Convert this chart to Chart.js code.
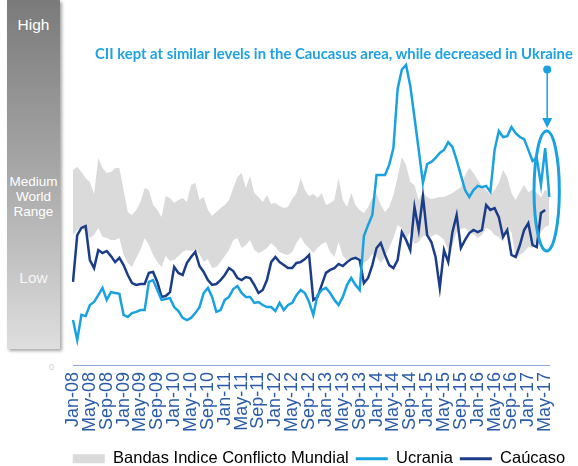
<!DOCTYPE html>
<html>
<head>
<meta charset="utf-8">
<script src="https://cdn.jsdelivr.net/npm/chart.js@4.4.1/dist/chart.umd.min.js"></script>
<style>
  body { margin: 0; background: #fff; }
  #wrap { position: relative; width: 578px; height: 466px; font-family: "Liberation Sans", Arial, sans-serif; }
  #panel {
    position: absolute; left: 7px; top: 0; width: 53px; height: 349px;
    background: linear-gradient(#7a7a7a, #a8a8a8 50%, #dedede);
    box-shadow: 2px 2px 3px rgba(0,0,0,0.35);
    color: #fff; text-align: center;
  }
  #panel .high { position: absolute; top: 16px; width: 100%; font-size: 15.5px; }
  #panel .mid { position: absolute; top: 174px; left: -3px; right: -3px; font-size: 13.5px; line-height: 15px; }
  #panel .low { position: absolute; top: 269px; width: 100%; font-size: 15.5px; color: rgba(255,255,255,0.85); }
  #zero { position: absolute; left: 49px; top: 362px; font-size: 9px; color: #d0d0d0; }
  #note {
    position: absolute; left: 95px; top: 44px; white-space: nowrap;
    font-family: Lato, "Open Sans", sans-serif; font-weight: 700; font-size: 14px; color: #1ea2e4;
  }
  canvas { position: absolute; left: 0; top: 0; }
</style>
</head>
<body>
<div id="wrap">
  <div id="panel">
    <div class="high">High</div>
    <div class="mid">Medium<br>World<br>Range</div>
    <div class="low">Low</div>
  </div>
  <div id="zero">0</div>
  <canvas id="chart" width="578" height="466"></canvas>
  <div id="note">CII kept at similar levels in the Caucasus area, while decreased in Ukraine</div>
</div>
<script>
// months Jan-08 .. Jun-17
const monthNames = ['Jan', 'Feb', 'Mar', 'Apr', 'May', 'Jun', 'Jul', 'Aug', 'Sep', 'Oct', 'Nov', 'Dec'];
const years = ['08', '09', '10', '11', '12', '13', '14', '15', '16', '17'];
const labels = [];
years.forEach(y => monthNames.forEach(m => labels.push(m + '-' + y)));
labels.length = 114;

const seriesNames = ['Bandas Indice Conflicto Mundial', 'Ucrania', 'Caúcaso'];

const bandHigh = [65.0,66.0,64.3,62.3,61.0,57.0,69.0,65.7,64.0,64.3,
  65.7,65.7,58.3,51.0,50.0,51.7,54.3,59.0,58.3,53.3,
  51.7,49.3,56.3,55.7,54.0,55.0,55.7,54.3,60.0,60.7,
  55.0,56.0,51.7,49.7,51.0,52.3,53.3,55.0,59.0,62.7,
  64.0,59.0,63.0,57.3,56.0,54.3,56.7,53.7,54.0,53.0,
  52.3,52.7,55.3,57.3,62.3,58.3,56.3,57.0,55.7,57.3,
  53.3,54.0,55.0,62.3,55.0,52.7,57.3,53.3,51.7,50.7,
  52.7,55.7,57.0,53.3,51.0,52.7,56.7,62.7,69.3,66.7,
  61.0,60.0,55.0,57.7,56.0,55.3,55.7,56.0,56.0,56.7,
  57.3,58.3,59.3,63.3,65.7,64.0,61.7,59.7,58.3,56.7,
  58.3,60.7,65.0,62.7,57.3,55.0,57.7,60.0,57.7,58.3,
  57.3,56.0,58.3,57.7];

const bandLow = [43.3,45.0,45.7,44.3,42.3,43.3,45.7,42.7,42.3,41.7,
  41.7,42.3,36.7,34.0,32.7,35.7,38.3,42.3,40.0,36.7,
  34.3,32.7,36.3,34.7,35.0,36.3,37.7,38.3,38.0,38.3,
  37.0,34.3,35.3,32.3,32.7,34.3,36.3,38.3,41.7,42.3,
  39.0,40.0,41.7,38.3,37.3,38.0,39.0,40.7,39.3,37.7,
  37.0,36.7,37.7,40.7,42.7,40.3,39.0,37.3,39.0,40.3,
  41.0,37.7,36.0,41.0,36.3,35.0,35.7,35.7,35.0,34.0,
  35.0,37.0,36.0,34.0,36.0,39.0,42.3,46.7,45.7,42.3,
  44.3,40.3,41.0,43.0,43.0,42.7,43.7,43.0,41.7,38.3,
  39.7,44.3,45.3,45.7,44.3,43.7,42.3,43.3,45.7,45.0,
  43.3,42.7,41.0,45.7,44.3,35.7,36.7,37.7,39.3,39.0,
  41.0,44.3,46.0,46.7];

const ucrania = [15.0,8.3,16.7,16.3,20.0,21.0,23.3,25.7,21.7,24.3,
  24.0,23.7,16.7,16.0,17.3,17.7,18.3,18.3,27.7,28.3,
  25.0,21.7,22.0,22.3,19.3,18.0,15.7,15.0,15.7,17.3,
  19.3,24.0,25.7,22.7,17.7,18.3,21.7,22.7,25.3,26.3,
  24.0,22.7,22.7,20.7,21.0,20.0,19.3,19.3,18.0,20.7,
  18.3,20.0,20.7,23.3,25.0,24.0,21.0,16.7,23.3,25.0,
  25.7,24.0,21.7,20.0,22.7,26.7,29.0,26.7,25.0,43.0,
  46.7,50.0,63.3,63.3,63.3,66.7,72.3,92.0,98.5,100.0,
  93.0,82.5,71.7,60.7,67.0,67.7,69.0,70.7,71.7,74.3,
  72.7,68.3,63.3,58.3,56.0,58.3,59.7,59.3,59.7,57.7,
  71.7,78.0,76.0,76.3,79.3,77.3,76.0,75.3,71.7,68.0,
  69.0,60.0,72.3,56.0];

const caucaso = [27.7,43.3,45.7,46.3,35.0,32.3,38.3,37.3,38.0,36.3,
  34.3,35.7,33.3,30.0,27.3,26.7,27.0,27.0,30.7,31.0,
  27.7,22.7,23.0,24.3,32.7,30.7,30.0,34.0,36.0,37.7,
  33.0,31.0,28.3,26.7,27.0,28.3,30.0,32.3,31.3,29.0,
  28.3,29.3,29.0,26.7,24.0,25.0,28.3,34.3,36.0,34.3,
  33.3,32.3,32.3,34.0,34.3,35.3,36.7,21.7,22.7,26.7,
  30.7,31.7,32.3,33.7,33.0,34.3,35.3,35.7,35.0,27.3,
  29.0,33.3,39.0,40.7,36.7,33.3,32.3,35.0,44.3,41.7,
  38.3,52.7,45.0,56.3,43.3,41.0,36.0,25.7,38.3,34.3,
  44.3,50.0,39.0,41.7,44.0,45.0,44.3,45.0,53.3,51.7,
  52.3,49.3,42.7,45.0,36.7,36.0,40.0,45.0,47.3,40.0,
  39.3,50.7,51.7,null];

// callout: ellipse round the last months of Ukraine, arrow from above
const calloutIndex = 112;
const calloutMid = 58;
const calloutHalf = 20;
const arrowTop = 98.5;
const arrowTip = 79;

const bandColor = '#dadada';
const ucraniaColor = '#19a1e0';
const caucasoColor = '#1b3d88';
const textBlue = '#2b5ca8';
const padBottom = -11;

const calloutPlugin = {
  id: 'callout',
  afterDatasetsDraw(chart) {
    const { ctx, scales: { x, y } } = chart;
    const cx = x.getPixelForValue(calloutIndex);
    const rx = x.getPixelForValue(calloutIndex + 3) - cx;
    const cy = y.getPixelForValue(calloutMid);
    const ry = y.getPixelForValue(calloutMid - calloutHalf) - cy;
    ctx.save();
    ctx.strokeStyle = ucraniaColor;
    ctx.lineWidth = 3;
    ctx.beginPath();
    ctx.ellipse(cx + 1.5, cy, rx, ry, 0, 0, Math.PI * 2);
    ctx.stroke();

    const ax = cx + 2;
    const y0 = y.getPixelForValue(arrowTop);
    const y1 = y.getPixelForValue(arrowTip);
    ctx.fillStyle = ucraniaColor;
    ctx.beginPath();
    ctx.arc(ax, y0, 4, 0, Math.PI * 2);
    ctx.fill();
    ctx.lineWidth = 1.5;
    ctx.beginPath();
    ctx.moveTo(ax, y0);
    ctx.lineTo(ax, y1 - 8);
    ctx.stroke();
    ctx.beginPath();
    ctx.moveTo(ax - 5, y1 - 10);
    ctx.lineTo(ax + 5, y1 - 10);
    ctx.lineTo(ax, y1);
    ctx.closePath();
    ctx.fill();
    ctx.restore();
  }
};

// invisible side axes only hold space, so the legend can be wider than the plot
const spacer = (w) => ({
  display: true,
  grid: { display: false, drawTicks: false },
  border: { display: false },
  ticks: { display: false },
  afterFit: (s) => { s.width = w; }
});

new Chart(document.getElementById('chart'), {
  type: 'line',
  data: {
    labels: labels,
    datasets: [
      {
        label: seriesNames[0],
        data: bandHigh,
        borderWidth: 0,
        pointRadius: 0,
        backgroundColor: bandColor,
        fill: '+1',
        order: 3
      },
      {
        label: 'band-low',
        data: bandLow,
        borderWidth: 0,
        pointRadius: 0,
        fill: false,
        order: 3
      },
      {
        label: seriesNames[1],
        data: ucrania,
        borderColor: ucraniaColor,
        borderWidth: 2.5,
        pointRadius: 0,
        tension: 0,
        fill: false,
        order: 1
      },
      {
        label: seriesNames[2],
        data: caucaso,
        borderColor: caucasoColor,
        borderWidth: 2.5,
        pointRadius: 0,
        tension: 0,
        fill: false,
        order: 2
      }
    ]
  },
  options: {
    responsive: false,
    animation: false,
    layout: { padding: { left: 60, right: 0, top: 20, bottom: padBottom } },
    plugins: {
      tooltip: { enabled: false },
      legend: {
        position: 'bottom',
        maxWidth: 578,
        labels: {
          usePointStyle: true,
          pointStyleWidth: 32,
          boxHeight: 9,
          padding: 7,
          color: textBlue,
          font: { family: '"Liberation Sans", Arial, sans-serif', size: 16.5 },
          generateLabels: () => [
            { text: seriesNames[0], fillStyle: bandColor, strokeStyle: bandColor, lineWidth: 0, pointStyle: 'rect', datasetIndex: 0 },
            { text: seriesNames[1], fillStyle: ucraniaColor, strokeStyle: ucraniaColor, lineWidth: 3, pointStyle: 'line', datasetIndex: 2 },
            { text: seriesNames[2], fillStyle: caucasoColor, strokeStyle: caucasoColor, lineWidth: 3, pointStyle: 'line', datasetIndex: 3 }
          ]
        }
      }
    },
    scales: {
      x: {
        grid: { display: false, drawTicks: false },
        border: { display: true, color: '#8ea8d8', width: 1 },
        ticks: {
          autoSkip: false,
          minRotation: 90,
          maxRotation: 90,
          padding: 7,
          color: textBlue,
          font: { family: '"Liberation Sans", Arial, sans-serif', size: 18 },
          callback: (v, i) => (i % 4 === 0 ? labels[i] : '')
        },
        afterFit: (s) => {
          const lg = s.chart.legend ? s.chart.legend.height : 31;
          s.height = s.chart.height - padBottom - 365 - lg;
        }
      },
      y: Object.assign(spacer(13), { min: 0, max: 115 }),
      yRight: Object.assign(spacer(11), { position: 'right' })
    }
  },
  plugins: [calloutPlugin]
});

// fit the note to the width it has in the picture
const note = document.getElementById('note');
const want = 478;
note.style.fontSize = (14 * want / note.offsetWidth).toFixed(2) + 'px';
</script>
</body>
</html>
